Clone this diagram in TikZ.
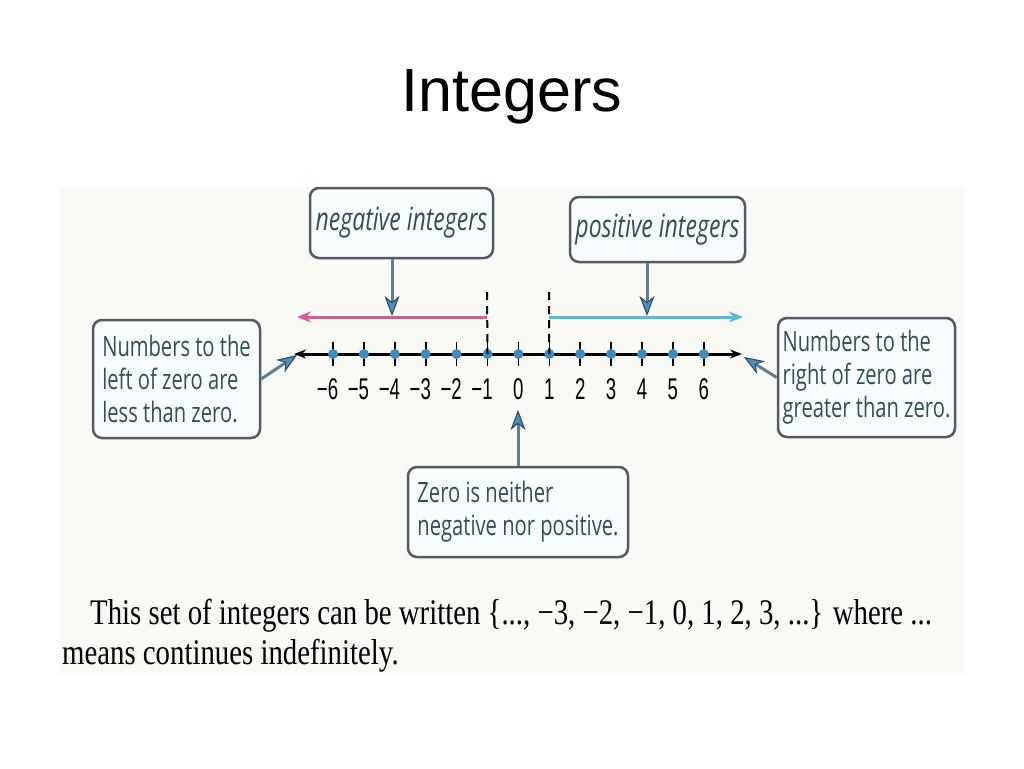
\documentclass[tikz,border=0pt]{standalone}
\usepackage{fontspec}
\usetikzlibrary{arrows.meta,calc}
\setmainfont{Liberation Serif}
\newfontfamily\titlefont{Liberation Sans}
\newfontfamily\boxfont[FakeStretch=0.72]{Open Sans}
\newfontfamily\numfont[FakeStretch=0.62]{Liberation Sans}
\newfontfamily\serifc[FakeStretch=0.8]{Liberation Serif}
\definecolor{scanbg}{RGB}{249,249,246}
\definecolor{boxedge}{RGB}{82,92,98}
\definecolor{boxfill}{RGB}{248,252,252}
\definecolor{boxtext}{RGB}{52,78,90}
\definecolor{dotblue}{RGB}{62,140,190}
\definecolor{shaft}{RGB}{96,126,146}
\definecolor{headfill}{RGB}{72,142,192}
\definecolor{headedge}{RGB}{50,70,85}
\definecolor{pinkline}{RGB}{214,92,150}
\definecolor{cyanline}{RGB}{84,188,218}
\tikzset{
  callbox/.style={draw=boxedge, line width=2.5pt, rounded corners=9pt, fill=boxfill,
    text=boxtext, inner sep=0pt, align=left},
  boxtxt/.style={font=\boxfont\fontsize{28}{33}\selectfont},
  labtxt/.style={font=\boxfont\itshape\fontsize{32}{34}\selectfont},
  dotn/.style={circle, fill=dotblue, inner sep=0pt, minimum size=10pt},
  numlab/.style={font=\numfont\fontsize{30}{30}\selectfont, text=black, inner sep=0pt},
  callarrow/.style={draw=shaft, line width=3pt,
    -{Stealth[length=20pt, width=15pt, inset=6pt, fill=headfill, color=headedge, line width=1pt]}},
  tickln/.style={draw=black, line width=1.6pt},
  dashln/.style={draw=black, line width=2pt, dash pattern=on 8pt off 6pt},
}
\begin{document}
\begin{tikzpicture}[x=1pt, y=-1pt]
\useasboundingbox[fill=white] (0,0) rectangle (1024,768);
% scanned area
\fill[scanbg] (60,187) rectangle (965,673);
% title
\node[font=\titlefont\fontsize{61}{70}\selectfont] (title) at (512,97) {Integers};
% number line
\coordinate (lend) at (294,354);
\coordinate (rend) at (742,354);
\draw[line width=3pt, {Stealth[length=12pt,width=9pt]}-{Stealth[length=12pt,width=9pt]}] (lend) -- (rend);
\foreach \n [count=\k from 0] in {-6,...,6} {
  \pgfmathsetmacro{\xx}{333+30.9*\k}
  \coordinate (tk\k) at (\xx,354);
  \draw[tickln] ($(tk\k)+(0,-12)$) -- ($(tk\k)+(0,12)$);
  \node[dotn] (d\k) at (tk\k) {};
}
\foreach \n [count=\k from 0] in {6,5,4,3,2,1} {
  \node[numlab] (lab\k) at (333+30.9*\k,389) {\llap{−}\n};
}
\foreach \n [count=\k from 6] in {0,1,2,3,4,5,6} {
  \node[numlab] (lab\k) at (333+30.9*\k,389) {\n};
}
% dashed separators
\coordinate (dl) at (487,292);
\coordinate (dr) at (549,292);
\draw[dashln] (dl) -- (tk5);
\draw[dashln] (dr) -- (tk7);
% pink and cyan arrows
\coordinate (pinkend) at (297,317);
\coordinate (cyanend) at (743,317);
\draw[pinkline, line width=3pt, -{Stealth[length=14pt,width=11pt]}] (487,317) -- (pinkend);
\draw[cyanline, line width=3pt, -{Stealth[length=14pt,width=11pt]}] (549,317) -- (cyanend);
% top label boxes
\node[callbox, labtxt, minimum width=183pt, minimum height=70pt, align=center] (negbox) at (401.5,223) {negative integers};
\node[callbox, labtxt, minimum width=175pt, minimum height=65pt, align=center] (posbox) at (657.5,229.5) {positive integers};
\coordinate (negtip) at (392,316);
\coordinate (postip) at (647,316);
\draw[callarrow] (negbox.south -| negtip) -- (negtip);
\draw[callarrow] (posbox.south -| postip) -- (postip);
% side boxes
\node[callbox, boxtxt, minimum width=167pt, minimum height=118pt] (lbox) at (176.5,379) {Numbers to the\\left of zero are\\less than zero.};
\node[callbox, boxtxt, minimum width=177pt, minimum height=119pt] (rbox) at (866.5,377.5) {Numbers to the\\right of zero are\\greater than zero.};
\draw[callarrow] (lbox.east) -- ($(lend)+(3,1)$);
\draw[callarrow] (rbox.west) -- ($(rend)+(2,3)$);
% zero box
\node[callbox, boxtxt, minimum width=220pt, minimum height=90pt] (zbox) at (518,512) {Zero is neither\\negative nor positive.};
\coordinate (ztip) at (518,410);
\draw[callarrow] (zbox.north) -- (ztip);
% bottom text
\node[font=\serifc\fontsize{36}{40}\selectfont, anchor=west, inner sep=0pt] (line1) at (90,616) {This set of integers can be written \{..., −3, −2, −1, 0, 1, 2, 3, ...\} where ...};
\node[font=\serifc\fontsize{36}{40}\selectfont, anchor=west, inner sep=0pt] (line2) at (62,656) {means continues indefinitely.};
\end{tikzpicture}
\end{document}
